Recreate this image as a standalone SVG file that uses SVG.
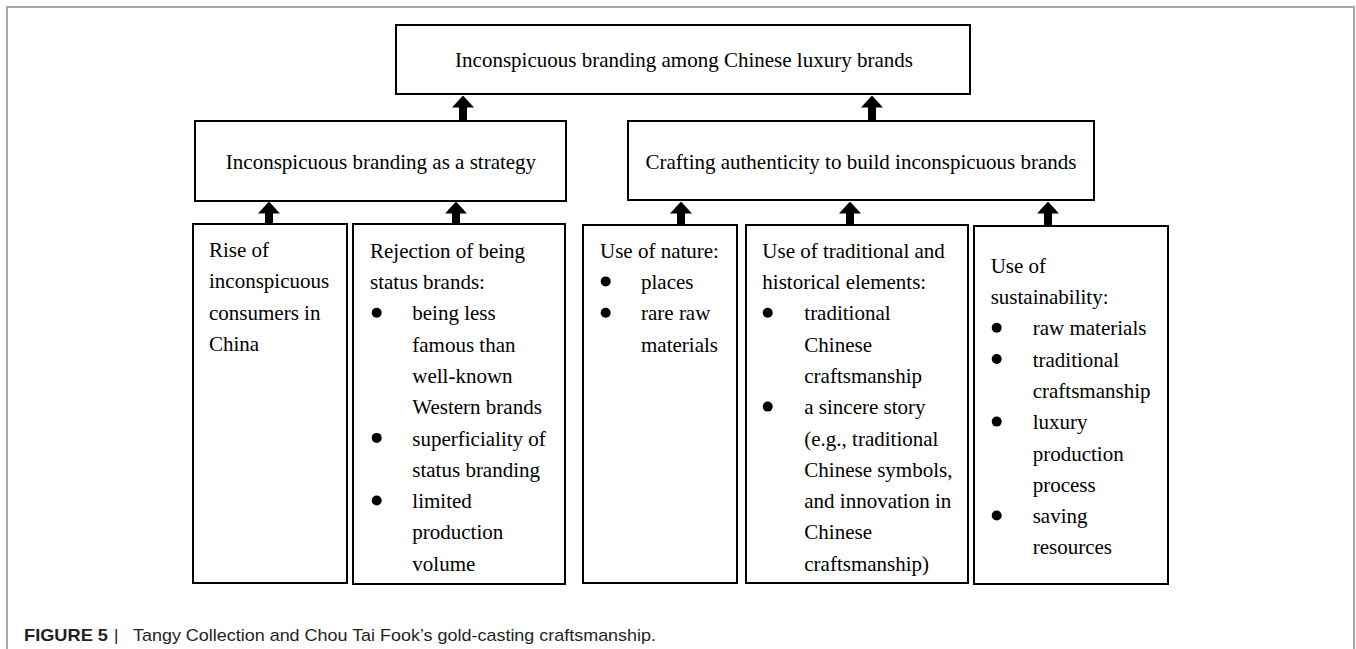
<svg xmlns="http://www.w3.org/2000/svg" width="1356" height="649" viewBox="0 0 1356 649">
<style>
.box{fill:#fff;stroke:#000;stroke-width:2}
.t{font-family:"Liberation Serif","Times New Roman",serif;font-size:21px;fill:#000}
.c{text-anchor:middle}
.arrow{stroke:#000;stroke-width:8;fill:none;marker-end:url(#ah)}
.bul{fill:#000}
.frame{fill:none;stroke:#a8a8a8;stroke-width:2}
.cap{font-family:"Liberation Sans",Arial,Helvetica,sans-serif;font-size:17px;fill:#231f20}
</style>
<defs>
<marker id="ah" markerUnits="userSpaceOnUse" viewBox="0 0 12 22" markerWidth="12" markerHeight="22" refX="0.5" refY="11" orient="auto">
<path d="M0,0 L12,11 L0,22 Z" fill="#000"/>
</marker>
</defs>
<rect width="1356" height="649" fill="#fff"/>
<path class="frame" d="M7,649 V7 H1354 V649"/>

<g id="connectors">
<path class="arrow" d="M463,121 V107"/>
<path class="arrow" d="M872,121 V107"/>
<path class="arrow" d="M269,224 V213"/>
<path class="arrow" d="M456,224 V213"/>
<path class="arrow" d="M681,225 V213"/>
<path class="arrow" d="M850,225 V213"/>
<path class="arrow" d="M1048,226 V213"/>
</g>

<g id="top">
<rect class="box" x="396" y="25" width="574" height="69"/>
<text class="t c" x="684" y="67">Inconspicuous branding among Chinese luxury brands</text>
</g>

<g id="strategy">
<rect class="box" x="195" y="121" width="371" height="80"/>
<text class="t c" x="381" y="169">Inconspicuous branding as a strategy</text>
</g>

<g id="authenticity">
<rect class="box" x="628" y="121" width="466" height="79"/>
<text class="t c" x="861" y="169">Crafting authenticity to build inconspicuous brands</text>
</g>

<g id="rise">
<rect class="box" x="193" y="224" width="154" height="359"/>
<text class="t" x="209" y="257">Rise of</text>
<text class="t" x="209" y="288.3">inconspicuous</text>
<text class="t" x="209" y="319.6">consumers in</text>
<text class="t" x="209" y="350.9">China</text>
</g>

<g id="rejection">
<rect class="box" x="353" y="224" width="212" height="360"/>
<text class="t" x="370" y="257.7">Rejection of being</text>
<text class="t" x="370" y="289">status brands:</text>
<circle class="bul" cx="376.7" cy="312.7" r="5"/>
<text class="t" x="412.3" y="320.3">being less</text>
<text class="t" x="412.3" y="351.6">famous than</text>
<text class="t" x="412.3" y="382.9">well-known</text>
<text class="t" x="412.3" y="414.2">Western brands</text>
<circle class="bul" cx="376.7" cy="437.9" r="5"/>
<text class="t" x="412.3" y="445.5">superficiality of</text>
<text class="t" x="412.3" y="476.8">status branding</text>
<circle class="bul" cx="376.7" cy="500.5" r="5"/>
<text class="t" x="412.3" y="508.1">limited</text>
<text class="t" x="412.3" y="539.4">production</text>
<text class="t" x="412.3" y="570.7">volume</text>
</g>

<g id="nature">
<rect class="box" x="583" y="225" width="154" height="358"/>
<text class="t" x="600" y="257.7">Use of nature:</text>
<circle class="bul" cx="605.7" cy="281.4" r="5"/>
<text class="t" x="641" y="289">places</text>
<circle class="bul" cx="605.7" cy="312.7" r="5"/>
<text class="t" x="641" y="320.3">rare raw</text>
<text class="t" x="641" y="351.6">materials</text>
</g>

<g id="traditional">
<rect class="box" x="746" y="225" width="222" height="358"/>
<text class="t" x="762.3" y="257.7">Use of traditional and</text>
<text class="t" x="762.3" y="289">historical elements:</text>
<circle class="bul" cx="767.7" cy="312.7" r="5"/>
<text class="t" x="804.3" y="320.3">traditional</text>
<text class="t" x="804.3" y="351.6">Chinese</text>
<text class="t" x="804.3" y="382.9">craftsmanship</text>
<circle class="bul" cx="767.7" cy="406.6" r="5"/>
<text class="t" x="804.3" y="414.2">a sincere story</text>
<text class="t" x="804.3" y="445.5">(e.g., traditional</text>
<text class="t" x="804.3" y="476.8">Chinese symbols,</text>
<text class="t" x="804.3" y="508.1">and innovation in</text>
<text class="t" x="804.3" y="539.4">Chinese</text>
<text class="t" x="804.3" y="570.7">craftsmanship)</text>
</g>

<g id="sustainability">
<rect class="box" x="974" y="226" width="194" height="358"/>
<text class="t" x="990.7" y="272.7">Use of</text>
<text class="t" x="990.7" y="304">sustainability:</text>
<circle class="bul" cx="996.7" cy="327.7" r="5"/>
<text class="t" x="1032.7" y="335.3">raw materials</text>
<circle class="bul" cx="996.7" cy="359" r="5"/>
<text class="t" x="1032.7" y="366.6">traditional</text>
<text class="t" x="1032.7" y="397.9">craftsmanship</text>
<circle class="bul" cx="996.7" cy="421.6" r="5"/>
<text class="t" x="1032.7" y="429.2">luxury</text>
<text class="t" x="1032.7" y="460.5">production</text>
<text class="t" x="1032.7" y="491.8">process</text>
<circle class="bul" cx="996.7" cy="515.5" r="5"/>
<text class="t" x="1032.7" y="523.1">saving</text>
<text class="t" x="1032.7" y="554.4">resources</text>
</g>

<g id="caption">
<text class="cap" x="24" y="641" font-weight="bold" textLength="84" lengthAdjust="spacingAndGlyphs">FIGURE 5</text>
<text class="cap" x="114" y="641">|</text>
<text class="cap" x="133" y="641" textLength="523" lengthAdjust="spacingAndGlyphs">Tangy Collection and Chou Tai Fook’s gold-casting craftsmanship.</text>
</g>
</svg>
